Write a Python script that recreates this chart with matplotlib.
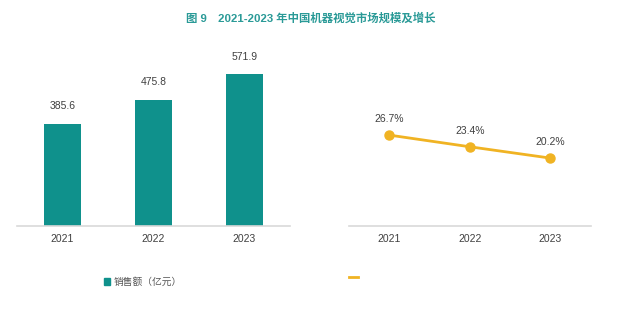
import matplotlib
matplotlib.use("Agg")
import matplotlib.pyplot as plt
from matplotlib.lines import Line2D
from matplotlib.patches import Patch

plt.rcParams["font.family"] = ["Liberation Sans", "Noto Sans CJK SC", "DejaVu Sans"]

years = ["2021", "2022", "2023"]
sales = [385.6, 475.8, 571.9]          # 销售额（亿元）
growth = [26.7, 23.4, 20.2]            # 增长率 %
growth_labels = ["26.7%", "23.4%", "20.2%"]

TEAL = "#0f918c"
GOLD = "#f0b323"
AXIS = "#d9d9d9"
TXT = "#404040"

W, H = 640, 322
fig = plt.figure(figsize=(6.4, 3.22), dpi=100)
fig.patch.set_facecolor("white")


def px_axes(x0, y0, x1, y1):
    # pixel box (top-left origin) -> figure axes
    return fig.add_axes([x0 / W, 1 - y1 / H, (x1 - x0) / W, (y1 - y0) / H])


def clean(ax):
    for s in ("top", "right", "left"):
        ax.spines[s].set_visible(False)
    ax.spines["bottom"].set_color(AXIS)
    ax.spines["bottom"].set_linewidth(1.2)
    ax.set_yticks([])
    ax.tick_params(axis="x", length=0, pad=6, labelsize=7.5, labelcolor=TXT)


fig.text(0.485, 1 - 18 / H, "图 9　2021-2023 年中国机器视觉市场规模及增长",
         ha="center", va="center", fontsize=8.2, fontweight="bold", color="#2a9a97")

# left: bar chart
ax1 = px_axes(17, 40.5, 290, 226)
x = range(len(years))
bars = ax1.bar(x, sales, width=0.4, color=TEAL)
ax1.set_xlim(-0.5, 2.5)
ax1.set_ylim(0, 700)
ax1.set_xticks(list(x))
ax1.set_xticklabels(years)
clean(ax1)
for b, v in zip(bars, sales):
    ax1.annotate(f"{v}", (b.get_x() + b.get_width() / 2, v), xytext=(0, 9),
                 textcoords="offset points", ha="center", va="bottom",
                 fontsize=7.5, color=TXT)

ax1.legend(handles=[Patch(color=TEAL, label="销售额（亿元）")],
           loc="center left", bbox_to_anchor=(95 / W, 1 - 282 / H),
           bbox_transform=fig.transFigure, frameon=False, fontsize=7,
           handlelength=0.6, handleheight=0.6, handletextpad=0.4,
           labelcolor="#555555")

# right: growth line
ax2 = px_axes(349, 40.3, 590.5, 226)
ax2.plot(x, growth, color=GOLD, lw=2, marker="o", ms=6.5)
ax2.set_xlim(-0.5, 2.5)
ax2.set_ylim(1.0, 53.5)
ax2.set_xticks(list(x))
ax2.set_xticklabels(years)
clean(ax2)
for i, (v, s) in enumerate(zip(growth, growth_labels)):
    ax2.annotate(s, (i, v), xytext=(0, 8), textcoords="offset points",
                 ha="center", va="bottom", fontsize=7.5, color=TXT)

ax2.legend(handles=[Line2D([], [], color=GOLD, lw=2)], labels=[""],
           loc="center left", bbox_to_anchor=(340 / W, 1 - 277 / H),
           bbox_transform=fig.transFigure, frameon=False, fontsize=7,
           handlelength=1.0)

fig.savefig("out.png", dpi=100)
